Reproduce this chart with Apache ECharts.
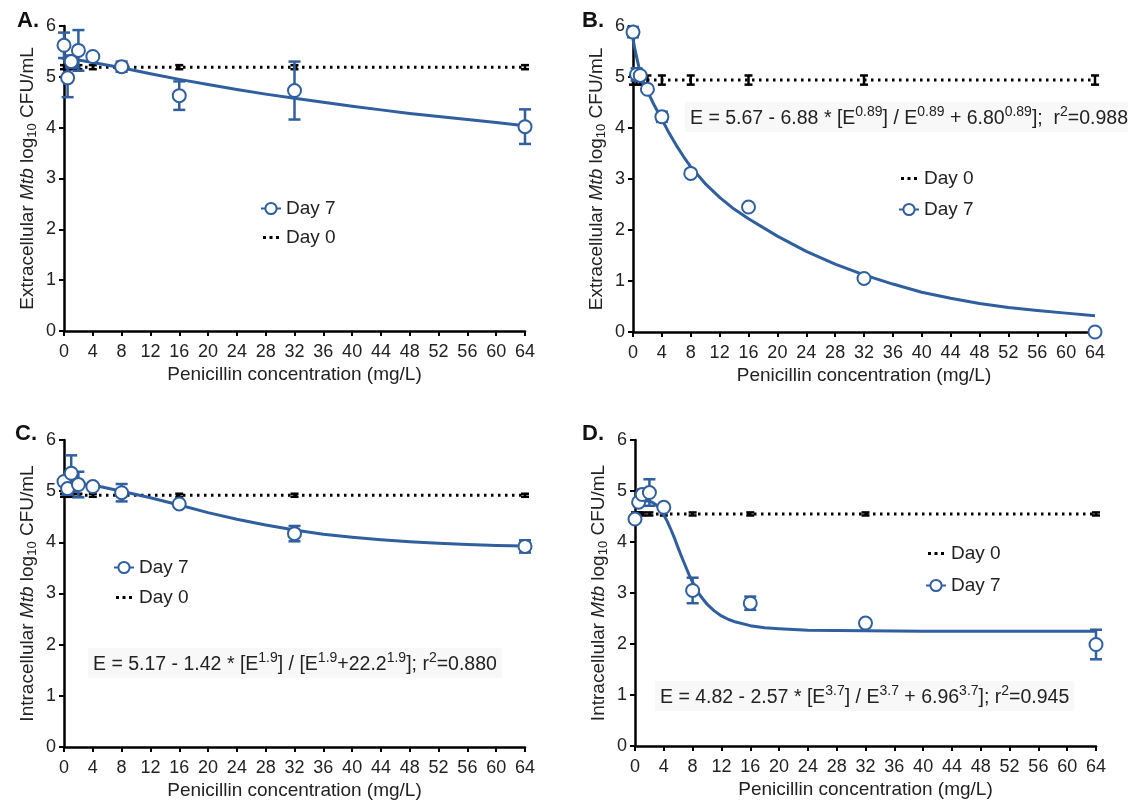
<!DOCTYPE html>
<html>
<head>
<meta charset="utf-8">
<script src="https://cdn.jsdelivr.net/npm/echarts@6/dist/echarts.min.js"></script>
<style>
  html, body { margin: 0; background: #fff; }
  #chart { width: 1128px; height: 806px; }
</style>
</head>
<body>
<div id="chart"></div>
<script>
// penicillin concentrations (mg/L)
const conc = [0, 0.5, 1, 2, 4, 8, 16, 32, 64];
const xTicks = [0, 4, 8, 12, 16, 20, 24, 28, 32, 36, 40, 44, 48, 52, 56, 60, 64];
const yTicks = [0, 1, 2, 3, 4, 5, 6];

// A. extracellular
const aDay7 = [5.62, 4.98, 5.30, 5.52, 5.40, 5.20, 4.63, 4.73, 4.02];
const aDay7Err = [0.25, 0.38, 0.12, 0.40, 0.03, 0.10, 0.28, 0.57, 0.34];
const aDay0 = [5.19, 5.19, 5.19, 5.19, 5.19, 5.19, 5.19, 5.19, 5.19];
const aDay0Err = [0.04, 0.04, 0.04, 0.04, 0.04, 0.04, 0.04, 0.04, 0.04];
const aFitX = [0, 2, 4, 8, 12, 16, 20, 24, 28, 32, 36, 40, 44, 48, 52, 56, 60, 64];
const aFit = [5.38, 5.33, 5.28, 5.18, 5.06, 4.95, 4.85, 4.75, 4.66, 4.58, 4.50, 4.42, 4.35, 4.28, 4.22, 4.16, 4.10, 4.04];

// B. extracellular
const bDay7 = [5.88, 5.05, 5.03, 4.76, 4.22, 3.11, 2.45, 1.05, 0.0];
const bDay7Err = [0.10, 0.12, 0.05, 0.03, 0.10, 0.0, 0.0, 0.0, 0.0];
const bDay0 = [4.94, 4.94, 4.94, 4.94, 4.94, 4.94, 4.94, 4.94, 4.94];
const bDay0Err = [0.09, 0.09, 0.09, 0.09, 0.09, 0.09, 0.09, 0.09, 0.09];
const bFitX = [0, 0.25, 0.5, 1, 1.5, 2, 3, 4, 5, 6, 7, 8, 10, 12, 14, 16, 20, 24, 28, 32, 36, 40, 44, 48, 52, 56, 60, 64];
const bFit = [5.74, 5.56, 5.39, 5.08, 4.88, 4.72, 4.43, 4.17, 3.90, 3.66, 3.44, 3.24, 2.91, 2.64, 2.41, 2.22, 1.88, 1.58, 1.33, 1.12, 0.94, 0.78, 0.66, 0.56, 0.48, 0.42, 0.37, 0.32];

// C. intracellular
const cDay7 = [5.19, 5.05, 5.35, 5.13, 5.09, 4.97, 4.75, 4.17, 3.92];
const cDay7Err = [0.05, 0.12, 0.35, 0.25, 0.03, 0.17, 0.05, 0.15, 0.12];
const cDay0 = [4.92, 4.92, 4.92, 4.92, 4.92, 4.92, 4.92, 4.92, 4.92];
const cDay0Err = [0.03, 0.03, 0.03, 0.03, 0.03, 0.03, 0.03, 0.03, 0.03];
const cFitX = [0, 4, 8, 12, 16, 20, 24, 28, 32, 36, 40, 44, 48, 52, 56, 60, 64];
const cFit = [5.17, 5.12, 5.00, 4.87, 4.73, 4.58, 4.45, 4.34, 4.24, 4.16, 4.10, 4.05, 4.01, 3.98, 3.96, 3.94, 3.93];

// D. intracellular
const dDay7 = [4.45, 4.78, 4.93, 4.97, 4.68, 3.05, 2.80, 2.41, 1.99];
const dDay7Err = [0.03, 0.05, 0.10, 0.26, 0.03, 0.25, 0.13, 0.03, 0.29];
const dDay0 = [4.55, 4.55, 4.55, 4.55, 4.55, 4.55, 4.55, 4.55, 4.55];
const dDay0Err = [0.03, 0.03, 0.03, 0.03, 0.03, 0.03, 0.03, 0.03, 0.03];
const dFitX = [0, 1, 2, 2.5, 3, 3.5, 4, 4.5, 5, 5.5, 6, 6.5, 7, 7.5, 8, 9, 10, 11, 12, 13, 14, 16, 18, 20, 24, 28, 32, 40, 48, 56, 64];
const dFit = [4.82, 4.82, 4.80, 4.77, 4.72, 4.64, 4.53, 4.40, 4.24, 4.07, 3.88, 3.70, 3.53, 3.36, 3.21, 2.96, 2.78, 2.65, 2.55, 2.48, 2.43, 2.36, 2.32, 2.30, 2.27, 2.265, 2.26, 2.25, 2.25, 2.25, 2.25];

const BLUE = '#2f5f9f';
const FONT = "'Liberation Sans', Arial, sans-serif";
// three dots, with near-invisible corner specks so the icon keeps its box
const DOTS_ICON = 'path://M0,0h0.01v0.01h-0.01z M20,14h0.01v0.01h-0.01z M2,5.5h3v3h-3z M8.5,5.5h3v3h-3z M15,5.5h3v3h-3z';

const panels = [
  { label: 'A.', kind: 'Extracellular', grid: { left: 64, right: 603, top: 26, bottom: 475 },
    day7: aDay7, day7Err: aDay7Err, day0: aDay0, day0Err: aDay0Err, fitX: aFitX, fit: aFit,
    legend: { left: 255, top: 194, itemGap: 10, order: ['Day 7', 'Day 0'] }, title: [12, 5] },
  { label: 'B.', kind: 'Extracellular', grid: { left: 633, right: 33, top: 26, bottom: 474 },
    day7: bDay7, day7Err: bDay7Err, day0: bDay0, day0Err: bDay0Err, fitX: bFitX, fit: bFit,
    legend: { left: 893, top: 164, itemGap: 12, order: ['Day 0', 'Day 7'] }, title: [577, 5] },
  { label: 'C.', kind: 'Intracellular', grid: { left: 64, right: 603, top: 440, bottom: 59 },
    day7: cDay7, day7Err: cDay7Err, day0: cDay0, day0Err: cDay0Err, fitX: cFitX, fit: cFit,
    legend: { left: 108, top: 553, itemGap: 11, order: ['Day 7', 'Day 0'] }, title: [10, 418] },
  { label: 'D.', kind: 'Intracellular', grid: { left: 635, right: 32, top: 440, bottom: 60 },
    day7: dDay7, day7Err: dDay7Err, day0: dDay0, day0Err: dDay0Err, fitX: dFitX, fit: dFit,
    legend: { left: 920, top: 539, itemGap: 13, order: ['Day 0', 'Day 7'] }, title: [577, 418] }
];

function errorBars(color, cap) {
  return function (params, api) {
    const x = api.value(0);
    const top = api.coord([x, api.value(2)]);
    const bot = api.coord([x, api.value(1)]);
    const s = { stroke: color, lineWidth: 2.5 };
    return {
      type: 'group',
      children: [
        { type: 'line', shape: { x1: top[0], y1: top[1], x2: bot[0], y2: bot[1] }, style: s },
        { type: 'line', shape: { x1: top[0] - cap, y1: top[1], x2: top[0] + cap, y2: top[1] }, style: s },
        { type: 'line', shape: { x1: bot[0] - cap, y1: bot[1], x2: bot[0] + cap, y2: bot[1] }, style: s }
      ]
    };
  };
}

const axisLine = { show: true, lineStyle: { color: '#000', width: 2.5 } };
const axisTick = { show: true, length: 5, lineStyle: { color: '#000', width: 2 } };
const labelStyle = { color: '#222', fontSize: 18, fontFamily: FONT };

const grids = [], xAxes = [], yAxes = [], series = [], legends = [], titles = [];

panels.forEach(function (p, i) {
  grids.push(Object.assign({ outerBoundsMode: 'none' }, p.grid));
  xAxes.push({
    type: 'value', gridIndex: i, min: xTicks[0], max: xTicks[xTicks.length - 1], interval: 4,
    axisLine: axisLine, axisTick: axisTick, splitLine: { show: false },
    axisLabel: Object.assign({ margin: 12 }, labelStyle),
    name: 'Penicillin concentration (mg/L)', nameLocation: 'middle', nameGap: 34,
    nameTextStyle: { color: '#222', fontSize: 19, fontFamily: FONT }
  });
  yAxes.push({
    type: 'value', gridIndex: i, min: yTicks[0], max: yTicks[yTicks.length - 1], interval: 1,
    axisLine: axisLine, axisTick: axisTick, splitLine: { show: false },
    axisLabel: Object.assign({ margin: 8 }, labelStyle),
    name: '{n|' + p.kind + ' }{i|Mtb}{n| log}{s|10}{n| CFU/mL}',
    nameLocation: 'middle', nameRotate: 90, nameGap: 25,
    nameTextStyle: {
      color: '#222', fontSize: 19, fontFamily: FONT,
      rich: {
        n: { fontSize: 19, fontFamily: FONT, color: '#222', lineHeight: 22, verticalAlign: 'middle' },
        i: { fontSize: 19, fontFamily: FONT, color: '#222', fontStyle: 'italic', lineHeight: 22, verticalAlign: 'middle' },
        s: { fontSize: 13, fontFamily: FONT, color: '#222', lineHeight: 22, verticalAlign: 'bottom' }
      }
    }
  });

  const day7Pts = conc.map(function (c, k) { return [c, p.day7[k]]; });
  const day7Bars = conc.map(function (c, k) { return [c, p.day7[k] - p.day7Err[k], p.day7[k] + p.day7Err[k]]; })
    .filter(function (d) { return d[2] - d[1] > 0.02; });
  const day0Pts = conc.map(function (c, k) { return [c, p.day0[k]]; });
  const day0Bars = conc.map(function (c, k) { return [c, p.day0[k] - p.day0Err[k], p.day0[k] + p.day0Err[k]]; });
  const fitPts = p.fitX.map(function (c, k) { return [c, p.fit[k]]; });

  series.push({
    name: 'Day 0', type: 'line', xAxisIndex: i, yAxisIndex: i, data: day0Pts,
    symbol: 'none', lineStyle: { color: '#000', width: 3, type: [2.5, 4.5] },
    itemStyle: { color: '#000' }, z: 2, silent: true
  });
  series.push({
    type: 'custom', xAxisIndex: i, yAxisIndex: i, data: day0Bars,
    renderItem: errorBars('#000', 4), encode: { x: 0, y: [1, 2] }, z: 3, silent: true
  });
  series.push({
    name: 'Day 7', type: 'line', xAxisIndex: i, yAxisIndex: i, data: fitPts,
    smooth: false, symbol: 'emptyCircle', symbolSize: 13, showSymbol: false,
    lineStyle: { color: BLUE, width: 3, join: 'round' }, itemStyle: { color: BLUE, borderWidth: 2.5 }, z: 4, silent: true
  });
  series.push({
    type: 'custom', xAxisIndex: i, yAxisIndex: i, data: day7Bars,
    renderItem: errorBars(BLUE, 6), encode: { x: 0, y: [1, 2] }, z: 5, silent: true
  });
  series.push({
    name: 'Day 7 points', type: 'scatter', xAxisIndex: i, yAxisIndex: i, data: day7Pts,
    symbol: 'emptyCircle', symbolSize: 13,
    itemStyle: { color: BLUE, borderColor: BLUE, borderWidth: 2.5, opacity: 1 }, z: 6, silent: true
  });

  legends.push({
    orient: 'vertical', itemWidth: 20, itemHeight: 14,
    left: p.legend.left, top: p.legend.top, itemGap: p.legend.itemGap,
    textStyle: { color: '#222', fontSize: 19, fontFamily: FONT }, selectedMode: false,
    data: p.legend.order.map(function (n) {
      return n === 'Day 0' ? { name: n, icon: DOTS_ICON, itemStyle: { color: '#000' } } : { name: n };
    })
  });

  titles.push({
    text: p.label, left: p.title[0], top: p.title[1],
    textStyle: { fontSize: 22, fontWeight: 'bold', color: '#111', fontFamily: FONT }
  });
});

const eqRich = {
  n: { fontSize: 19.5, fontFamily: FONT, fill: '#222', lineHeight: 24, verticalAlign: 'bottom' },
  p: { fontSize: 14, fontFamily: FONT, fill: '#222', lineHeight: 24, verticalAlign: 'top' }
};
function eqText(x, y, text) {
  return {
    type: 'text', left: x, top: y, z: 10,
    style: { text: text, rich: eqRich, backgroundColor: '#f8f8f8', padding: [3, 5, 3, 5] }
  };
}

const chart = echarts.init(document.getElementById('chart'));
chart.setOption({
  backgroundColor: '#fff',
  animation: false,
  title: titles,
  grid: grids,
  xAxis: xAxes,
  yAxis: yAxes,
  legend: legends,
  series: series,
  graphic: [
    eqText(685, 102, '{n|E = 5.67 - 6.88 * [E}{p|0.89}{n|] / E}{p|0.89}{n| + 6.80}{p|0.89}{n|];  r}{p|2}{n|=0.988}'),
    eqText(88, 648, '{n|E = 5.17 - 1.42 * [E}{p|1.9}{n|] / [E}{p|1.9}{n|+22.2}{p|1.9}{n|]; r}{p|2}{n|=0.880}'),
    eqText(655, 681, '{n|E = 4.82 - 2.57 * [E}{p|3.7}{n|] / E}{p|3.7}{n| + 6.96}{p|3.7}{n|]; r}{p|2}{n|=0.945}')
  ]
});
</script>
</body>
</html>
